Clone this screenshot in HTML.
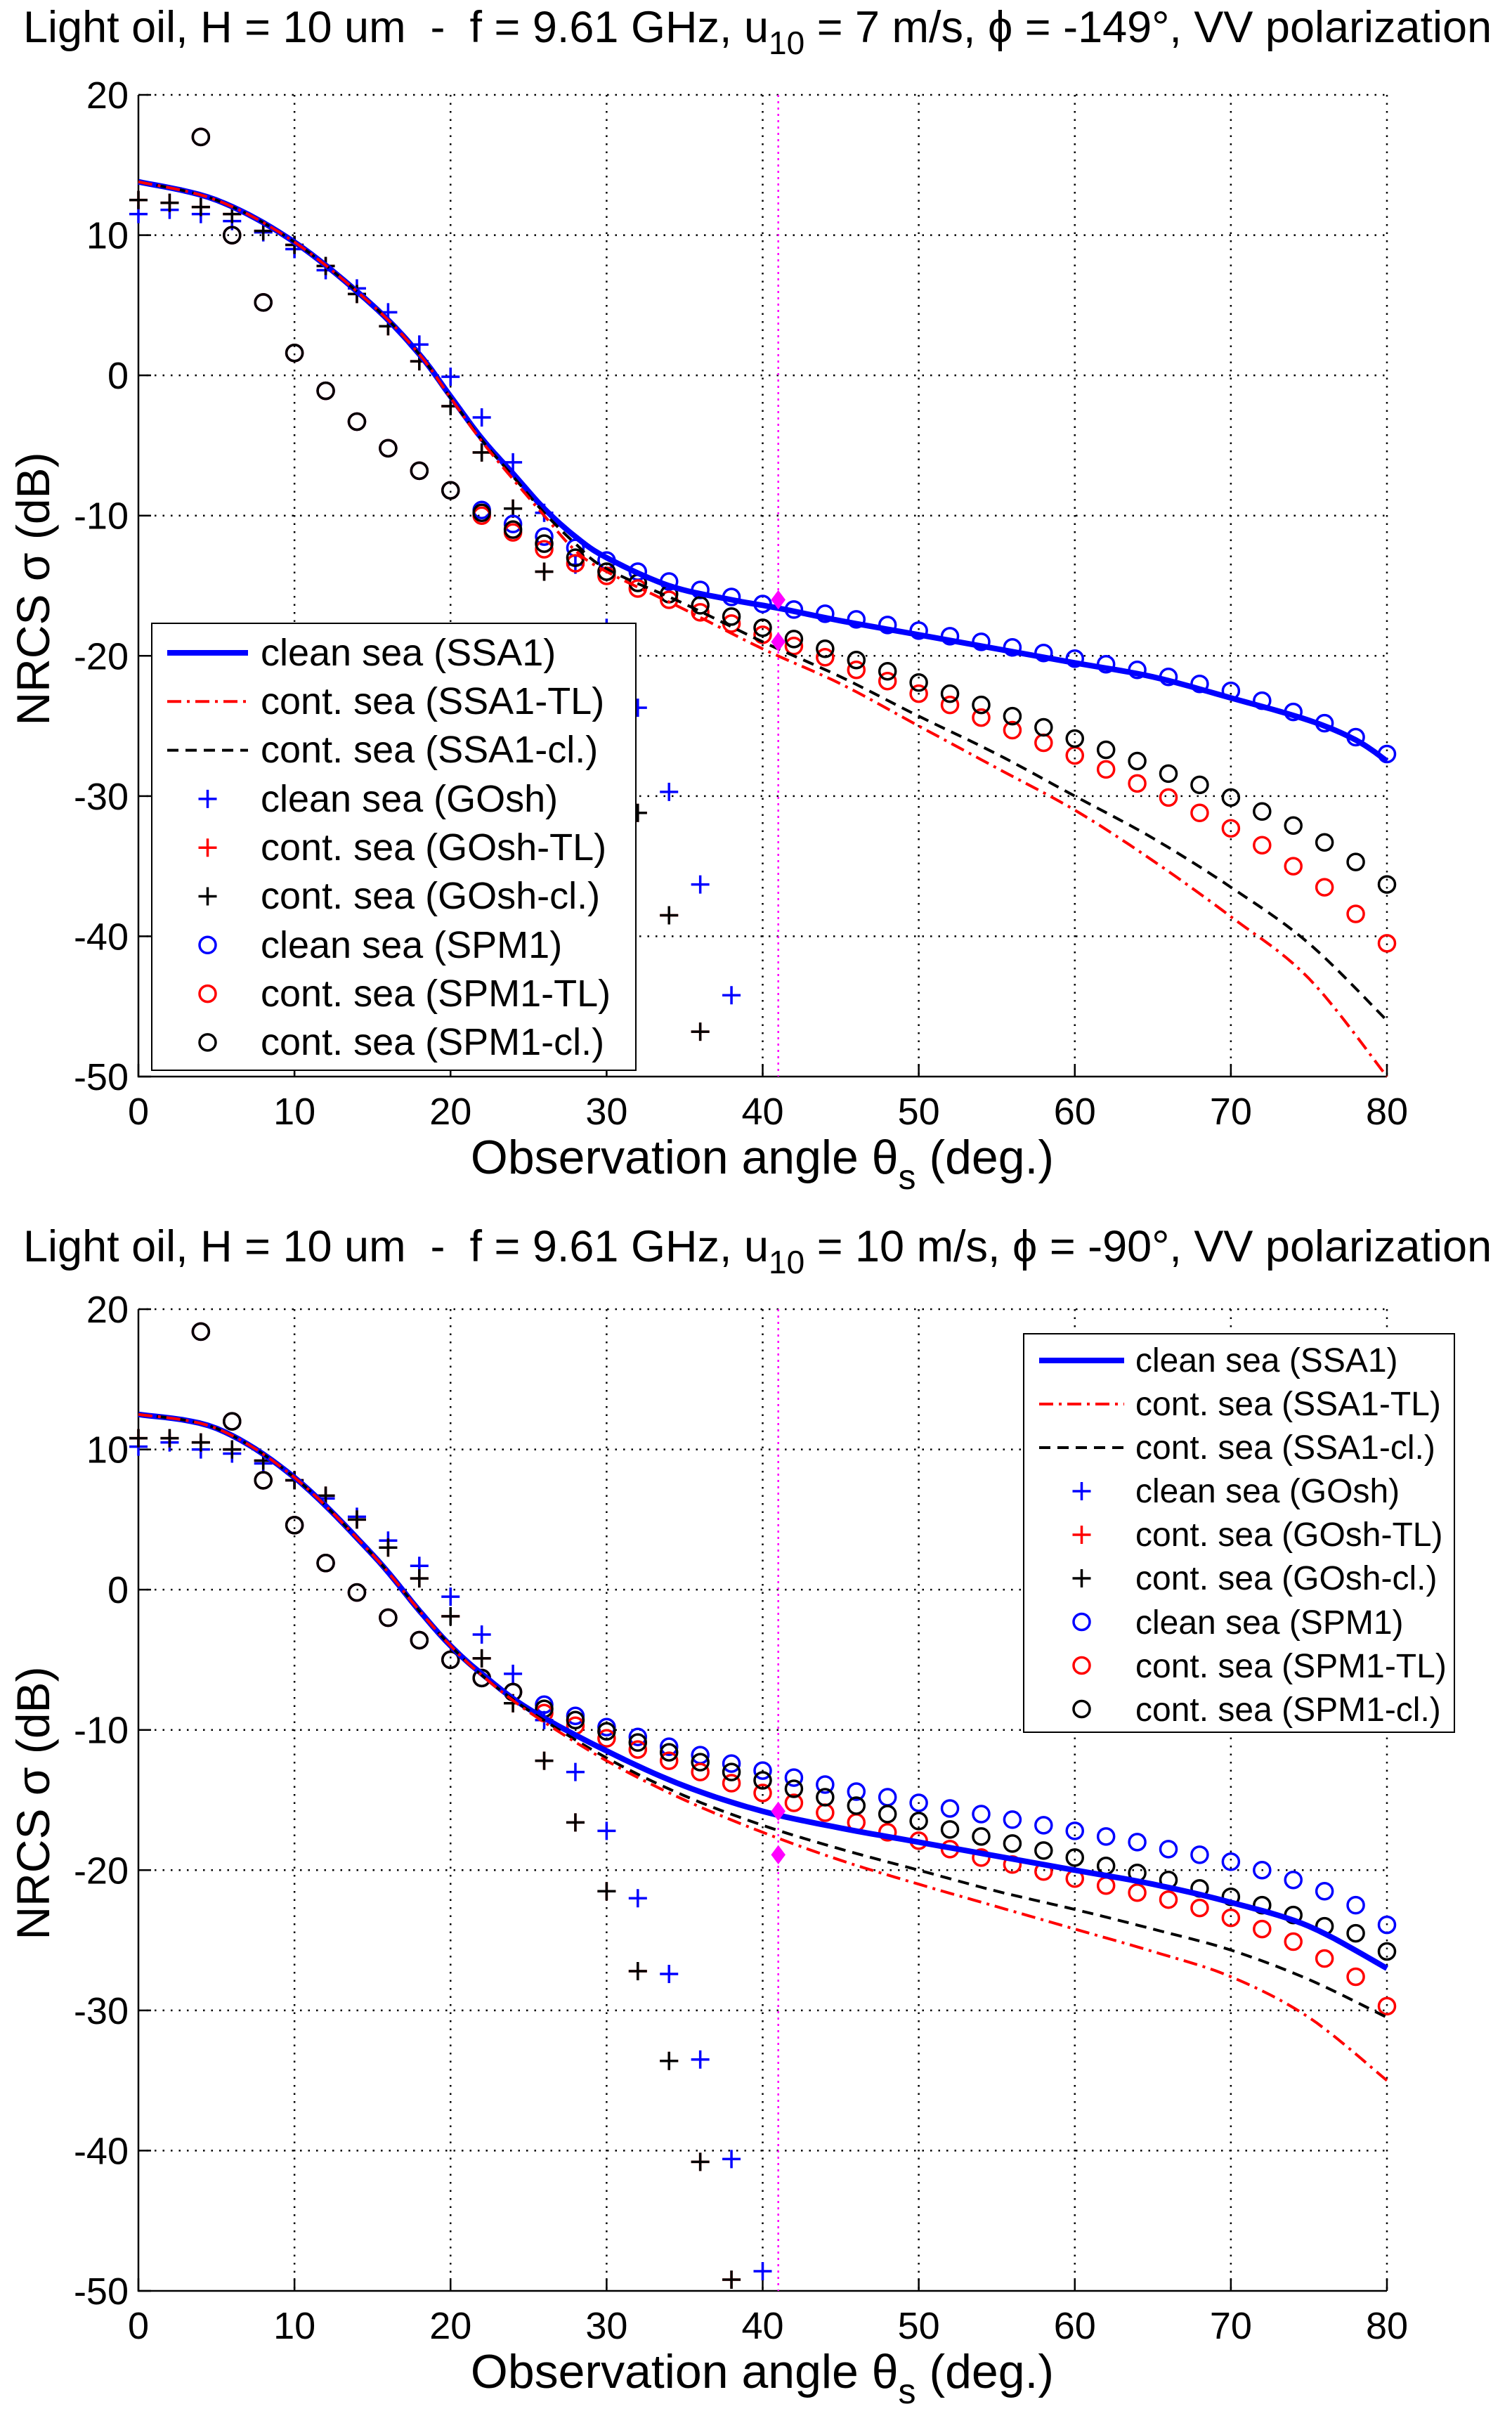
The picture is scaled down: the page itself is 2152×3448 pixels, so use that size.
<!DOCTYPE html>
<html><head><meta charset="utf-8"><style>html,body{margin:0;padding:0;background:#fff}svg{display:block}text{font-family:"Liberation Sans",sans-serif;fill:#000;white-space:pre}</style></head>
<body>
<svg id="s" width="2152" height="3448" viewBox="0 0 2152 3448" xmlns="http://www.w3.org/2000/svg" xml:space="preserve">
<rect width="2152" height="3448" fill="#fff"/>
<text x="33" y="60" font-size="63">Light oil, H = 10 um  -  f = 9.61 GHz, u<tspan dy="17" font-size="46">10</tspan><tspan dy="-17"> = 7 m/s, ϕ = -149°, VV polarization</tspan></text>
<text x="33" y="1795" font-size="63">Light oil, H = 10 um  -  f = 9.61 GHz, u<tspan dy="17" font-size="46">10</tspan><tspan dy="-17"> = 10 m/s, ϕ = -90°, VV polarization</tspan></text>
<g id="ticks" font-size="54"></g>
<text x="1085" y="1670" font-size="68" text-anchor="middle">Observation angle θ<tspan dy="22" font-size="50">s</tspan><tspan dy="-22"> (deg.)</tspan></text>
<text x="1085" y="3398" font-size="68" text-anchor="middle">Observation angle θ<tspan dy="22" font-size="50">s</tspan><tspan dy="-22"> (deg.)</tspan></text>
<text transform="translate(70,838) rotate(-90)" font-size="66" text-anchor="middle">NRCS σ (dB)</text>
<text transform="translate(70,2566) rotate(-90)" font-size="66" text-anchor="middle">NRCS σ (dB)</text>
<g id="p0"></g><g id="p1"></g>
<g font-size="54">
<rect x="216" y="887" width="689" height="636" fill="#fff" stroke="#000" stroke-width="2"/>
<text x="371" y="947">clean sea (SSA1)</text>
<text x="371" y="1016">cont. sea (SSA1-TL)</text>
<text x="371" y="1085">cont. sea (SSA1-cl.)</text>
<text x="371" y="1155">clean sea (GOsh)</text>
<text x="371" y="1224">cont. sea (GOsh-TL)</text>
<text x="371" y="1293">cont. sea (GOsh-cl.)</text>
<text x="371" y="1363">clean sea (SPM1)</text>
<text x="371" y="1432">cont. sea (SPM1-TL)</text>
<text x="371" y="1501">cont. sea (SPM1-cl.)</text>
</g>
<g font-size="48">
<rect x="1457" y="1898" width="613" height="567" fill="#fff" stroke="#000" stroke-width="2"/>
<text x="1616" y="1952">clean sea (SSA1)</text>
<text x="1616" y="2014">cont. sea (SSA1-TL)</text>
<text x="1616" y="2076">cont. sea (SSA1-cl.)</text>
<text x="1616" y="2138">clean sea (GOsh)</text>
<text x="1616" y="2200">cont. sea (GOsh-TL)</text>
<text x="1616" y="2262">cont. sea (GOsh-cl.)</text>
<text x="1616" y="2325">clean sea (SPM1)</text>
<text x="1616" y="2387">cont. sea (SPM1-TL)</text>
<text x="1616" y="2449">cont. sea (SPM1-cl.)</text>
</g>
<g id="leg"></g>
</svg>
<script>
var NS="http://www.w3.org/2000/svg",S=document.getElementById("s");
function el(p,n,a){var e=document.createElementNS(NS,n);for(var k in a)e.setAttribute(k,a[k]);p.appendChild(e);return e;}
var TOP=[135,1863],X0=197,XS=22.2125,YS=19.957;
function X(d){return X0+XS*d;}
function Y(i,v){return TOP[i]+(20-v)*YS;}
function curve(pts){var o=[];for(var i=0;i<pts.length-1;i++){var p0=pts[Math.max(i-1,0)],p1=pts[i],p2=pts[i+1],p3=pts[Math.min(i+2,pts.length-1)];for(var t=0;t<1;t+=0.1){var t2=t*t,t3=t2*t;var f=function(a,b,c,d){return 0.5*((2*b)+(-a+c)*t+(2*a-5*b+4*c-d)*t2+(-a+3*b-3*c+d)*t3);};o.push([f(p0[0],p1[0],p2[0],p3[0]),f(p0[1],p1[1],p2[1],p3[1])]);}}o.push(pts[pts.length-1]);return o;}
function line(g,i,d,st){var c=curve(d);el(g,"polyline",Object.assign({points:c.map(function(p){return X(p[0]).toFixed(1)+","+Y(i,p[1]).toFixed(1)}).join(" "),fill:"none","stroke-linejoin":"round"},st));}
function plus(g,x,y,c){el(g,"path",{d:"M"+(x-13)+","+y+"h26M"+x+","+(y-13)+"v26",stroke:c,"stroke-width":3.5,fill:"none"});}
function circ(g,x,y,c){el(g,"circle",{cx:x,cy:y,r:11.5,stroke:c,"stroke-width":3.5,fill:"none"});}
function seq(a,start){var o=[];for(var i=0;i<a.length;i++)o.push([start+2*i,a[i]]);return o;}
var T=document.getElementById("ticks");
for(var i=0;i<2;i++){var g=document.getElementById("p"+i);
 for(var d=10;d<=80;d+=10)el(g,"line",{x1:X(d),y1:TOP[i],x2:X(d),y2:Y(i,-50),stroke:"#000","stroke-width":2.5,"stroke-dasharray":"2.5 9"});
 for(var v=-40;v<=20;v+=10)el(g,"line",{x1:X0,y1:Y(i,v),x2:X(80),y2:Y(i,v),stroke:"#000","stroke-width":2.5,"stroke-dasharray":"2.5 9"});
 el(g,"path",{d:"M"+X0+","+TOP[i]+"V"+Y(i,-50)+"H"+X(80),stroke:"#000","stroke-width":2.5,fill:"none"});
 for(var d=0;d<=80;d+=10){el(g,"line",{x1:X(d),y1:Y(i,-50),x2:X(d),y2:Y(i,-50)-18,stroke:"#000","stroke-width":2.5});}
 for(var v=-50;v<=20;v+=10){el(g,"line",{x1:X0,y1:Y(i,v),x2:X0+18,y2:Y(i,v),stroke:"#000","stroke-width":2.5});}
 el(g,"line",{x1:X(41),y1:TOP[i],x2:X(41),y2:Y(i,-50),stroke:"#ff00ff","stroke-width":2.5,"stroke-dasharray":"3 6"});
}
var L=[
 {ssa:[[0,13.8],[5,12.5],[10,9.5],[15,5],[18,1.5],[20,-1.5],[22,-4.5],[24,-7],[26,-9.5],[28,-11.5],[30,-13],[34,-15],[38,-16],[41,-16.6],[45,-17.5],[50,-18.5],[55,-19.5],[60,-20.5],[65,-21.5],[70,-23],[75,-24.6],[78,-26],[80,-27.5]],
  tl:[[0,13.8],[5,12.5],[10,9.5],[15,5],[18,1.5],[20,-1.6],[22,-4.7],[24,-7.4],[26,-10],[28,-12.5],[30,-14],[35,-16.7],[40,-19.5],[45,-22],[50,-25],[55,-28],[60,-31],[65,-34.6],[70,-38.6],[75,-43],[80,-50]],
  cl:[[0,13.8],[5,12.5],[10,9.5],[15,5],[18,1.5],[20,-1.6],[22,-4.6],[24,-7.2],[26,-9.8],[28,-12],[30,-13.8],[35,-16.3],[40,-19],[45,-21.5],[50,-24.3],[55,-27],[60,-30],[65,-33],[70,-36.5],[75,-40.5],[80,-46]],
  gb:seq([11.5,11.8,11.5,11,10.2,9,7.5,6.2,4.5,2.2,-0.1,-3,-6.2,-9.8,-13.5,-18,-23.7,-29.7,-36.3,-44.2],0),
  gk:seq([12.5,12.3,12,11.5,10.3,9.3,7.8,5.8,3.5,1,-2.2,-5.5,-9.5,-14,-19.5,-25,-31.2,-38.5,-46.8],0),
  ob:seq([17,10,5.2,1.6,-1.1,-3.3,-5.2,-6.8,-8.2,-9.6,-10.6,-11.5,-12.3,-13.2,-14,-14.7,-15.3,-15.8,-16.3,-16.7,-17,-17.4,-17.8,-18.2,-18.6,-19,-19.4,-19.8,-20.2,-20.6,-21,-21.5,-22,-22.5,-23.2,-24,-24.8,-25.8,-27],4),
  or:seq([17,10,5.2,1.6,-1.1,-3.3,-5.2,-6.8,-8.2,-10,-11.2,-12.4,-13.4,-14.3,-15.2,-16,-16.9,-17.7,-18.5,-19.3,-20.1,-21,-21.8,-22.7,-23.5,-24.4,-25.3,-26.2,-27.1,-28.1,-29.1,-30.1,-31.2,-32.3,-33.5,-35,-36.5,-38.4,-40.5],4),
  ok:seq([17,10,5.2,1.6,-1.1,-3.3,-5.2,-6.8,-8.2,-9.8,-11,-12,-13,-14,-14.8,-15.6,-16.4,-17.2,-18,-18.8,-19.5,-20.3,-21.1,-21.9,-22.7,-23.5,-24.3,-25.1,-25.9,-26.7,-27.5,-28.4,-29.2,-30.1,-31.1,-32.1,-33.3,-34.7,-36.3],4),
  dm:[-16,-19]},
 {ssa:[[0,12.5],[5,11.5],[10,8],[15,2.5],[18,-1.5],[20,-4],[22,-6],[25,-8.5],[30,-11.5],[35,-14],[40,-15.8],[45,-17],[50,-18],[55,-19],[60,-20],[65,-21],[70,-22.3],[75,-24],[80,-27]],
  tl:[[0,12.5],[5,11.5],[10,8],[15,2.5],[18,-1.5],[20,-4],[22,-6.1],[25,-8.7],[30,-12.2],[35,-15],[40,-17.3],[45,-19.3],[50,-21],[55,-22.6],[60,-24.2],[65,-25.8],[70,-27.6],[75,-30.5],[80,-35]],
  cl:[[0,12.5],[5,11.5],[10,8],[15,2.5],[18,-1.5],[20,-4],[22,-6.1],[25,-8.6],[30,-12],[35,-14.7],[40,-16.8],[45,-18.5],[50,-20],[55,-21.5],[60,-22.8],[65,-24.2],[70,-25.7],[75,-27.8],[80,-30.5]],
  gb:seq([10.2,10.5,10,9.7,9,7.8,6.5,5.2,3.5,1.7,-0.5,-3.2,-6,-9.3,-13,-17.2,-22,-27.4,-33.5,-40.6,-48.6],0),
  gk:seq([10.8,10.8,10.5,10,9.2,7.8,6.7,5,3,0.8,-1.9,-4.9,-8.1,-12.2,-16.6,-21.5,-27.2,-33.6,-40.8,-49.2],0),
  ob:seq([18.4,12,7.8,4.6,1.9,-0.2,-2,-3.6,-5,-6.3,-7.3,-8.2,-9,-9.8,-10.5,-11.2,-11.8,-12.4,-12.9,-13.4,-13.9,-14.4,-14.8,-15.2,-15.6,-16,-16.4,-16.8,-17.2,-17.6,-18,-18.5,-18.9,-19.4,-20,-20.7,-21.5,-22.5,-23.9],4),
  or:seq([18.4,12,7.8,4.6,1.9,-0.2,-2,-3.6,-5,-6.3,-7.3,-8.8,-9.7,-10.6,-11.4,-12.2,-13,-13.8,-14.5,-15.2,-15.9,-16.6,-17.3,-17.9,-18.5,-19.1,-19.6,-20.1,-20.6,-21.1,-21.6,-22.1,-22.7,-23.4,-24.2,-25.1,-26.3,-27.6,-29.7],4),
  ok:seq([18.4,12,7.8,4.6,1.9,-0.2,-2,-3.6,-5,-6.3,-7.3,-8.5,-9.3,-10.1,-10.9,-11.6,-12.3,-13,-13.6,-14.2,-14.8,-15.4,-16,-16.5,-17.1,-17.6,-18.1,-18.6,-19.1,-19.7,-20.2,-20.7,-21.3,-21.9,-22.5,-23.2,-24,-24.5,-25.8],4),
  dm:[-15.8,-18.9]}];
for(var i=0;i<2;i++){var g=document.getElementById("p"+i),D=L[i];
 D.gb.forEach(function(p){plus(g,X(p[0]),Y(i,p[1]),"#0000ff");});
 D.gk.forEach(function(p){plus(g,X(p[0]),Y(i,p[1]),"#ff0000");});
 D.gk.forEach(function(p){plus(g,X(p[0]),Y(i,p[1]),"#000");});
 D.ob.forEach(function(p){circ(g,X(p[0]),Y(i,p[1]),"#0000ff");});
 D.or.forEach(function(p){circ(g,X(p[0]),Y(i,p[1]),"#ff0000");});
 D.ok.forEach(function(p){circ(g,X(p[0]),Y(i,p[1]),"#000");});
 line(g,i,D.ssa,{stroke:"#0000ff","stroke-width":8});
 line(g,i,D.cl,{stroke:"#000","stroke-width":4,"stroke-dasharray":"16 10"});
 line(g,i,D.tl,{stroke:"#ff0000","stroke-width":4,"stroke-dasharray":"20 8 4 8"});
 D.dm.forEach(function(v){var x=X(41),y=Y(i,v);el(g,"path",{d:"M"+x+","+(y-12)+"l9,12l-9,12l-9,-12z",fill:"#ff00ff",stroke:"#ff00ff","stroke-width":2});});
}
for(var i=0;i<2;i++){for(var d=0;d<=80;d+=10){var t=el(T,"text",{x:X(d),y:Y(i,-50)+68,"text-anchor":"middle"});t.textContent=d;}
 for(var v=-50;v<=20;v+=10){var t=el(T,"text",{x:183,y:Y(i,v)+19,"text-anchor":"end"});t.textContent=v;}}
var G=document.getElementById("leg");
function leg(x1,x2,y0,dy){var ys=[];for(var k=0;k<9;k++)ys.push(y0+k*dy);var xm=(x1+x2)/2;
 el(G,"line",{x1:x1,y1:ys[0],x2:x2,y2:ys[0],stroke:"#0000ff","stroke-width":8});
 el(G,"line",{x1:x1,y1:ys[1],x2:x2,y2:ys[1],stroke:"#ff0000","stroke-width":4,"stroke-dasharray":"20 8 4 8"});
 el(G,"line",{x1:x1,y1:ys[2],x2:x2,y2:ys[2],stroke:"#000","stroke-width":4,"stroke-dasharray":"16 10"});
 plus(G,xm,ys[3],"#0000ff");plus(G,xm,ys[4],"#ff0000");plus(G,xm,ys[5],"#000");
 circ(G,xm,ys[6],"#0000ff");circ(G,xm,ys[7],"#ff0000");circ(G,xm,ys[8],"#000");}
leg(238,353,929,69.3);leg(1479,1600,1936,62);
</script>
</body></html>
